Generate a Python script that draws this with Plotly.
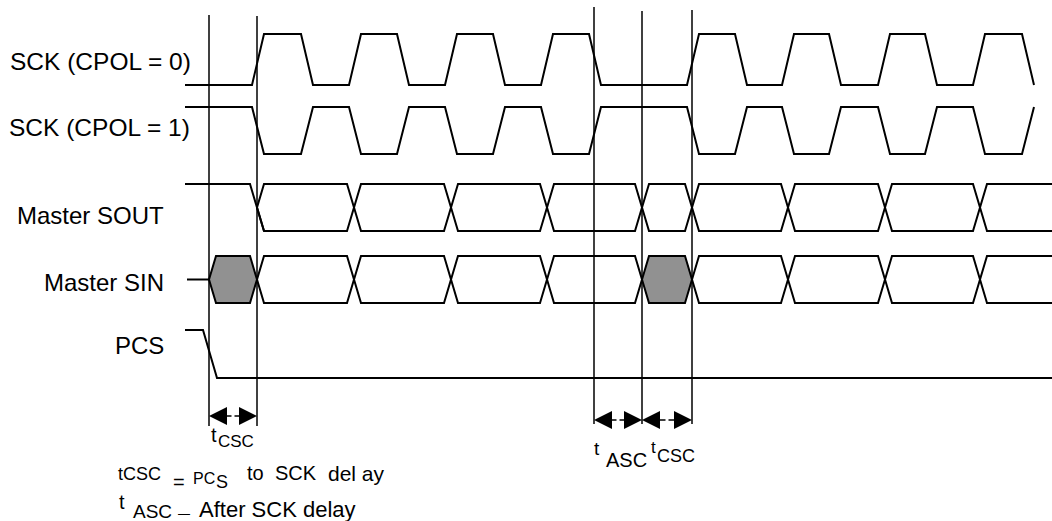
import plotly.graph_objects as go

W, H = 1052, 521

# ---------------- data (times in diagram units) ----------------
signal_labels = ["SCK (CPOL = 0)", "SCK (CPOL = 1)", "Master SOUT", "Master SIN", "PCS"]
sck_rise_times = [252, 349, 445, 541, 687, 782, 878, 973]      # CPOL=0 rising edges
sck_fall_times = [301, 397, 493, 589, 735, 829, 925, 1022]     # CPOL=0 falling edges
sout_cross_times = [257, 354, 451, 547, 642, 692, 788, 885, 980]
sin_cross_times = [209, 257, 354, 451, 547, 642, 692, 788, 885, 980]
sin_invalid_windows = [[209, 257], [642, 692]]
pcs_fall_time = 203
timing_marker_times = [209, 257, 594, 642, 692]
timing_intervals = [["CSC", 209, 257], ["ASC", 594, 642], ["CSC", 642, 692]]
trace_start = 185
trace_end = 1052

# ---------------- layout constants ----------------
EDGE = 12      # clock edge duration
HALF = 7       # bus crossing half width
PCS_EDGE = 14
LANES = {      # (high y, low y) in page pixels
    "sck0": (34, 85),
    "sck1": (107, 154),
    "sout": (184, 231),
    "sin": (256, 303),
    "pcs": (330, 378),
}
MARKER_TOPS = [15, 16, 7, 11, 10]
MARKER_BOTTOMS = [426, 426, 424, 424, 424]
BLACK = "#000000"
GRAY = "#919191"
FONT = "Liberation Sans, Arial, Helvetica, sans-serif"
LW = 2

fig = go.Figure()


def add_line(xs, ys, width=LW, fill=None):
    fig.add_trace(go.Scatter(
        x=xs, y=ys, mode="lines", hoverinfo="skip", showlegend=False,
        line=dict(color=BLACK, width=width),
        fill="toself" if fill else None, fillcolor=fill,
    ))


# ---- clocks ----
def clock_wave(cpol, high, low):
    edges = sorted([(t, 1) for t in sck_rise_times] + [(t, 0) for t in sck_fall_times])
    lvl = cpol
    yv = lambda l: high if l else low
    xs, ys = [trace_start], [yv(lvl)]
    for t, rising in edges:
        new = rising if cpol == 0 else 1 - rising
        xs += [t, t + EDGE]
        ys += [yv(lvl), yv(new)]
        lvl = new
    return xs, ys


hi, lo = LANES["sck0"]
add_line(*clock_wave(0, hi, lo))
hi, lo = LANES["sck1"]
add_line(*clock_wave(1, hi, lo))


# ---- buses ----
def bubble(a, b, top, bot):
    mid = (top + bot) / 2
    if b >= trace_end:
        return ([trace_end, a + HALF, a, a + HALF, trace_end],
                [top, top, mid, bot, bot])
    return ([a, a + HALF, b - HALF, b, b - HALF, a + HALF, a],
            [mid, top, top, mid, bot, bot, mid])


top, bot = LANES["sout"]
c0 = sout_cross_times[0]
add_line([trace_start, c0 - HALF, c0 + HALF], [top, top, bot])
bounds = sout_cross_times + [trace_end]
for a, b in zip(bounds[:-1], bounds[1:]):
    add_line(*bubble(a, b, top, bot))

top, bot = LANES["sin"]
mid = (top + bot) / 2
add_line([trace_start + 2, sin_cross_times[0]], [mid, mid])
bounds = sin_cross_times + [trace_end]
for a, b in zip(bounds[:-1], bounds[1:]):
    invalid = [a, b] in sin_invalid_windows
    add_line(*bubble(a, b, top, bot), fill=GRAY if invalid else None)

# ---- PCS ----
hi, lo = LANES["pcs"]
add_line([trace_start, pcs_fall_time, pcs_fall_time + PCS_EDGE, trace_end], [hi, hi, lo, lo])

# ---- timing markers ----
for t, y0, y1 in zip(timing_marker_times, MARKER_TOPS, MARKER_BOTTOMS):
    add_line([t, t], [y0, y1], width=1.5)

annotations = []


def txt(s, x, y, size, anchor="left"):
    annotations.append(dict(
        text=s, x=x, y=y, xref="x", yref="y", xanchor=anchor, yanchor="middle",
        showarrow=False, borderpad=0, borderwidth=0,
        font=dict(family=FONT, size=size, color=BLACK),
    ))


# signal labels
label_pos = [(10, 61, "left", 24.5), (9, 127, "left", 24.5), (164, 215.5, "right", 24),
             (164, 282, "right", 24), (164, 345, "right", 24)]
for s, (x, y, anc, sz) in zip(signal_labels, label_pos):
    txt(s, x, y, sz, anc)

# dimension arrows
arrow_y = [416, 420, 420]
for (name, a, b), y in zip(timing_intervals, arrow_y):
    m = (a + b) / 2
    for head in (a, b):
        annotations.append(dict(
            x=head, y=y, ax=m, ay=y, xref="x", yref="y", axref="x", ayref="y",
            text="", showarrow=True, arrowhead=2, arrowsize=2.4, arrowwidth=1.5,
            arrowcolor=BLACK, standoff=0, startstandoff=0,
        ))

# interval labels
txt("t", 211, 435, 20)
txt("CSC", 218, 441, 17)
txt("t", 594, 448, 19)
txt("ASC", 606, 460, 20)
txt("t", 651, 447, 17)
txt("CSC", 657, 455.5, 18)

# legend text
txt("tCSC", 118, 474, 18)
txt("=", 173, 482, 20)
txt("PC", 193, 478.5, 16)
txt("S", 216, 481.5, 18)
txt("to", 247, 473, 20)
txt("SCK", 275, 473, 20)
txt("del ay", 328, 473, 21)
txt("t", 119, 501.5, 20)
txt("ASC", 133, 511.5, 19)
txt("\u2014", 178, 514, 12)
txt("After SCK delay", 199, 509.5, 22)

fig.update_layout(
    width=W, height=H, autosize=False,
    margin=dict(l=0, r=0, t=0, b=0),
    paper_bgcolor="white", plot_bgcolor="white",
    xaxis=dict(range=[0, W], visible=False, fixedrange=True),
    yaxis=dict(range=[H, 0], visible=False, fixedrange=True),
    annotations=annotations,
    showlegend=False,
)

fig.write_html(
    "out.html",
    config={"displayModeBar": False},
    post_script="document.body.style.margin='0';document.body.style.overflow='hidden';",
)
